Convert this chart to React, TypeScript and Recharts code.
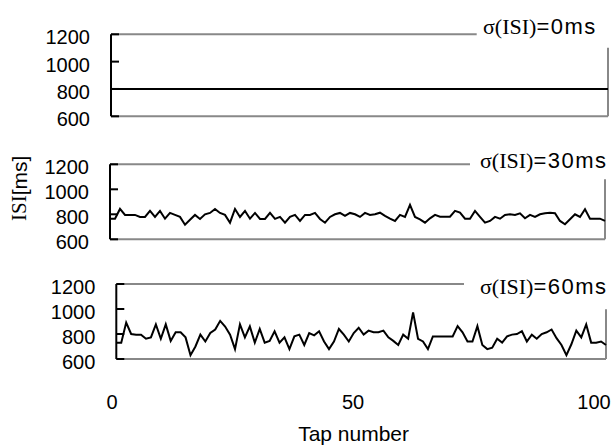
import React from 'react';
import { LineChart, Line, XAxis, YAxis } from 'recharts';

// ---------- data ----------
const tapNumbers: number[] = Array.from({ length: 100 }, (_, i) => i + 1);

const isiSigma0: number[] = [
  800, 800, 800, 800, 800, 800, 800, 800, 800, 800,
  800, 800, 800, 800, 800, 800, 800, 800, 800, 800,
  800, 800, 800, 800, 800, 800, 800, 800, 800, 800,
  800, 800, 800, 800, 800, 800, 800, 800, 800, 800,
  800, 800, 800, 800, 800, 800, 800, 800, 800, 800,
  800, 800, 800, 800, 800, 800, 800, 800, 800, 800,
  800, 800, 800, 800, 800, 800, 800, 800, 800, 800,
  800, 800, 800, 800, 800, 800, 800, 800, 800, 800,
  800, 800, 800, 800, 800, 800, 800, 800, 800, 800,
  800, 800, 800, 800, 800, 800, 800, 800, 800, 800,
];

const isiSigma30: number[] = [
  765, 765, 843, 795, 795, 795, 779, 779, 827, 779,
  827, 765, 811, 795, 779, 717, 757, 795, 763, 800,
  811, 843, 811, 795, 733, 843, 779, 827, 765, 811,
  763, 763, 811, 763, 779, 733, 779, 795, 747, 795,
  795, 811, 763, 733, 779, 800, 811, 787, 811, 800,
  779, 811, 795, 800, 813, 787, 765, 747, 795, 779,
  875, 779, 760, 733, 768, 795, 781, 781, 781, 827,
  813, 765, 765, 827, 779, 733, 747, 779, 765, 795,
  800, 795, 808, 768, 795, 779, 800, 808, 813, 808,
  747, 720, 760, 800, 779, 840, 765, 765, 765, 747,
];

const isiSigma60: number[] = [
  731, 731, 891, 800, 795, 795, 762, 773, 877, 762,
  877, 745, 814, 814, 773, 630, 700, 795, 740, 808,
  836, 905, 860, 795, 679, 877, 773, 861, 731, 841,
  731, 745, 822, 731, 773, 679, 781, 795, 712, 808,
  789, 822, 740, 679, 740, 840, 795, 740, 808, 850,
  795, 827, 814, 814, 827, 773, 745, 712, 795, 762,
  973, 762, 740, 679, 781, 781, 781, 781, 781, 863,
  814, 740, 740, 863, 712, 679, 690, 762, 731, 781,
  795, 800, 822, 740, 795, 762, 800, 814, 836, 767,
  712, 630, 718, 827, 773, 877, 731, 731, 740, 712,
];

const yTicks: number[] = [600, 800, 1000, 1200];
const xTicks: number[] = [0, 50, 100];
const sigmaLabels: string[] = ['0ms', '30ms', '60ms'];

// ---------- style ----------
const SANS = '"Liberation Sans", Arial, sans-serif';
const SERIF = '"Liberation Serif", "Times New Roman", serif';
const BORDER = '#888888';
const W = 613;

type PanelProps = {
  values: number[];
  sigma: string;
  top: number;
  height: number;
  plotLeft: number;
  plotRight: number;
  plotTop: number;
  plotBottom: number;
  titleX: number;
  titleY: number;
  topLineEnd: number;
  rightStart: number;
  extra?: React.ReactNode;
};

function Panel(p: PanelProps) {
  const data = tapNumbers.map((t, i) => ({ tap: t, v: p.values[i] }));
  const axisX = p.plotLeft;
  const tyTop = p.plotTop - p.top;
  const tyBottom = p.plotBottom - p.top;
  const renderTick = (props: any) => {
    const { y, payload } = props;
    return (
      <g>
        <line x1={axisX} x2={axisX + 8} y1={y} y2={y} stroke="#000" strokeWidth={2} />
        <text
          x={axisX - 21}
          y={y + 3}
          textAnchor="end"
          dominantBaseline="central"
          fontSize={20}
          fontFamily={SANS}
          fill="#000"
        >
          {payload.value}
        </text>
      </g>
    );
  };
  return (
    <div style={{ position: 'absolute', left: 0, top: p.top, width: W, height: p.height }}>
      <LineChart
        width={W}
        height={p.height}
        data={data}
        margin={{ top: tyTop, bottom: p.height - tyBottom, left: 0, right: W - p.plotRight }}
      >
        <line x1={p.plotLeft} x2={p.topLineEnd} y1={tyTop} y2={tyTop} stroke={BORDER} strokeWidth={2} />
        <line x1={p.plotLeft} x2={p.plotRight} y1={tyBottom} y2={tyBottom} stroke={BORDER} strokeWidth={2} />
        <line
          x1={p.plotRight}
          x2={p.plotRight}
          y1={p.rightStart - p.top}
          y2={tyBottom}
          stroke={BORDER}
          strokeWidth={2}
        />
        <XAxis type="number" dataKey="tap" domain={[1, 100]} hide height={0} />
        <YAxis
          type="number"
          domain={[600, 1200]}
          ticks={yTicks}
          interval={0}
          width={p.plotLeft}
          axisLine={{ stroke: '#000', strokeWidth: 2 }}
          tickLine={false}
          tick={renderTick}
        />
        <Line
          type="linear"
          dataKey="v"
          stroke="#000"
          strokeWidth={2}
          dot={false}
          isAnimationActive={false}
        />
        <text x={p.titleX} y={p.titleY - p.top} dominantBaseline="central" fontSize={22} fill="#000">
          <tspan fontFamily={SERIF}>σ(ISI)</tspan>
          <tspan fontFamily={SANS} letterSpacing={1.5}>{'=' + p.sigma}</tspan>
        </text>
        {p.extra}
      </LineChart>
    </div>
  );
}

function XScaleChart() {
  const top = 370;
  const renderTick = (props: any) => {
    const { x, payload } = props;
    return (
      <text
        x={x}
        y={401.7 - top}
        textAnchor="middle"
        dominantBaseline="central"
        fontSize={20}
        fontFamily={SANS}
        fill="#000"
      >
        {payload.value}
      </text>
    );
  };
  return (
    <div style={{ position: 'absolute', left: 0, top, width: W, height: 76 }}>
      <LineChart
        width={W}
        height={76}
        data={xTicks.map((t) => ({ tap: t }))}
        margin={{ top: 0, bottom: 0, left: 112, right: W - 594 }}
      >
        <XAxis
          type="number"
          dataKey="tap"
          domain={[0, 100]}
          ticks={xTicks}
          interval={0}
          height={56}
          axisLine={false}
          tickLine={false}
          tick={renderTick}
        />
        <YAxis hide domain={[0, 1]} width={0} />
        <text
          x={353.6}
          y={433 - top}
          textAnchor="middle"
          dominantBaseline="central"
          fontSize={21}
          fontFamily={SANS}
          fill="#000"
        >
          Tap number
        </text>
      </LineChart>
    </div>
  );
}

export default function App() {
  const yLabel = (
    <text
      x={19.3}
      y={188.3 - 140}
      transform={`rotate(-90, 19.3, ${188.3 - 140})`}
      textAnchor="middle"
      dominantBaseline="central"
      fontSize={21}
      fill="#000"
    >
      <tspan fontFamily={SERIF}>ISI</tspan>
      <tspan fontFamily={SANS}>[ms]</tspan>
    </text>
  );
  return (
    <div style={{ position: 'absolute', left: 0, top: 0, width: W, height: 446, background: '#fff' }}>
      <Panel
        values={isiSigma0}
        sigma={sigmaLabels[0]}
        top={0}
        height={130}
        plotLeft={111}
        plotRight={608}
        plotTop={34.3}
        plotBottom={116.3}
        titleX={483}
        titleY={26}
        topLineEnd={476.7}
        rightStart={47.7}
      />
      <Panel
        values={isiSigma30}
        sigma={sigmaLabels[1]}
        top={140}
        height={120}
        plotLeft={110}
        plotRight={605}
        plotTop={164.3}
        plotBottom={239.3}
        titleX={480}
        titleY={160}
        topLineEnd={470}
        rightStart={179.3}
        extra={yLabel}
      />
      <Panel
        values={isiSigma60}
        sigma={sigmaLabels[2]}
        top={260}
        height={120}
        plotLeft={116.3}
        plotRight={606}
        plotTop={284}
        plotBottom={359}
        titleX={480}
        titleY={286}
        topLineEnd={464}
        rightStart={309.3}
      />
      <XScaleChart />
    </div>
  );
}
